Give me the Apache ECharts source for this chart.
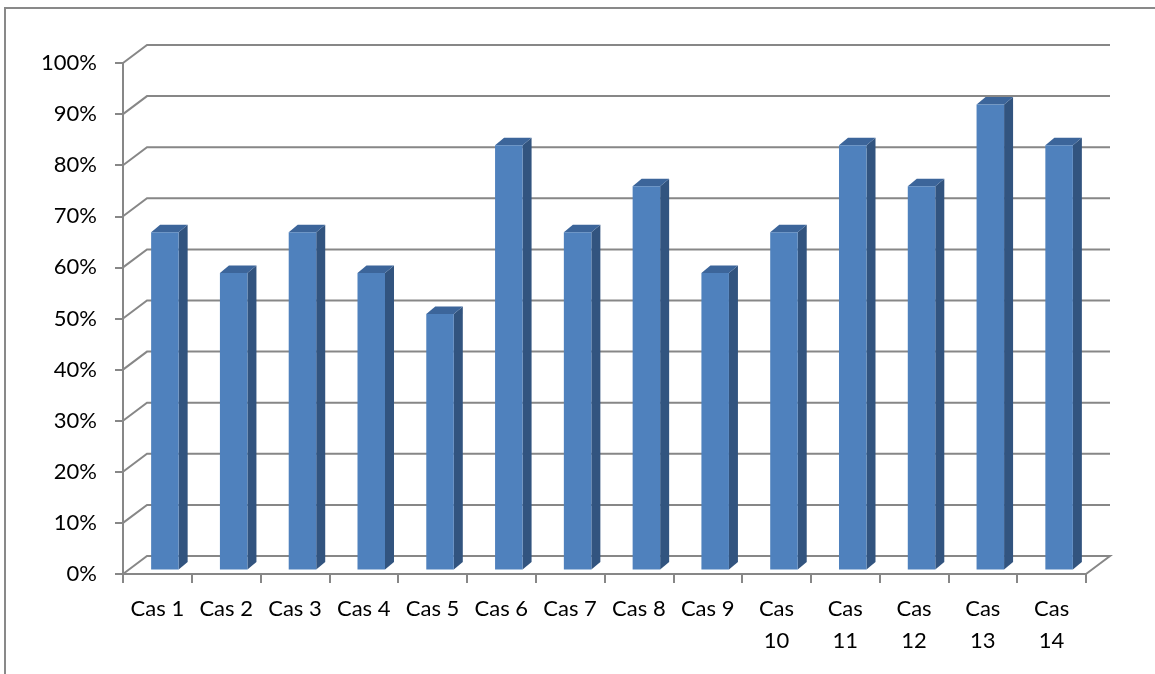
<!DOCTYPE html>
<html>
<head>
<meta charset="utf-8">
<script src="https://cdn.jsdelivr.net/npm/echarts@6/dist/echarts.min.js"></script>
<style>
  html, body { margin: 0; padding: 0; background: #fff; }
  #chart_div { width: 1155px; height: 674px; }
</style>
</head>
<body>
<div id="chart_div"></div>
<script>
// ----------- 数据 -----------
var categories = ['Cas 1', 'Cas 2', 'Cas 3', 'Cas 4', 'Cas 5', 'Cas 6', 'Cas 7',
    'Cas 8', 'Cas 9', 'Cas 10', 'Cas 11', 'Cas 12', 'Cas 13', 'Cas 14']
var values = [0.66, 0.58, 0.66, 0.58, 0.50, 0.83, 0.66, 0.75, 0.58, 0.66, 0.83, 0.75, 0.91, 0.83]
var y_ticks = [0, 0.1, 0.2, 0.3, 0.4, 0.5, 0.6, 0.7, 0.8, 0.9, 1.0]

// ----------- 3D 偏移 -----------
var WALL_DX = 24, WALL_DY = -18      // 后墙相对前轴
var FRONT_DX = 7.5, FRONT_DY = -4.5  // 柱子正面相对前轴
var DEPTH_DX = 9, DEPTH_DY = -7.5    // 柱子厚度
var grid_color = '#878787'
var font = 'Lato'

var chart = echarts.init(document.getElementById('chart_div'))

// 后墙网格线
function render_wall(params, api) {
    var cs = params.coordSys
    var v = api.value(1)
    var y = api.coord([0, v])[1]
    var left = cs.x, right = cs.x + cs.width
    var pts = [[left, y], [left + WALL_DX, y + WALL_DY], [right + WALL_DX, y + WALL_DY]]
    if (v === 0) {
        pts.push([right, y])
    }
    return {
        type: 'polyline',
        shape: { points: pts },
        style: { stroke: grid_color, lineWidth: 2, fill: null }
    }
}

// 立体柱子
function render_bar(params, api) {
    var i = api.value(0), v = api.value(1)
    var base = api.coord([i, 0])
    var top = api.coord([i, v])
    var w = api.size([1, 0])[0] * 0.4
    var x0 = base[0] - w / 2 + FRONT_DX, x1 = x0 + w
    var yb = base[1] + FRONT_DY, yt = top[1] + FRONT_DY
    return {
        type: 'group',
        children: [
            {
                type: 'polygon',
                shape: { points: [[x1, yt], [x1 + DEPTH_DX, yt + DEPTH_DY], [x1 + DEPTH_DX, yb + DEPTH_DY], [x1, yb]] },
                style: { fill: '#32547f' }
            },
            {
                type: 'polygon',
                shape: { points: [[x0, yt], [x0 + DEPTH_DX, yt + DEPTH_DY], [x1 + DEPTH_DX, yt + DEPTH_DY], [x1, yt]] },
                style: { fill: '#3c659a' }
            },
            {
                type: 'rect',
                shape: { x: x0, y: yt, width: w, height: yb - yt },
                style: { fill: '#4f81bd' }
            }
        ]
    }
}

var option = {
    animation: false,
    graphic: [{
        type: 'rect',
        shape: { x: 5, y: 8, width: 1400, height: 900 },
        style: { fill: null, stroke: '#898989', lineWidth: 2 },
        silent: true
    }],
    grid: { left: 123, right: 69, top: 63, bottom: 100 },
    xAxis: {
        type: 'category',
        data: categories,
        axisLine: { lineStyle: { color: grid_color, width: 2 } },
        axisTick: { show: true, length: 9, lineStyle: { color: grid_color, width: 2 } },
        axisLabel: {
            color: '#000',
            fontFamily: font,
            fontSize: 22,
            lineHeight: 32,
            margin: 19,
            interval: 0,
            formatter: function (value) {
                return value.length > 5 ? value.replace(' ', '\n') : value
            }
        }
    },
    yAxis: {
        type: 'value',
        min: 0,
        max: 1,
        interval: 0.1,
        splitLine: { show: false },
        axisLine: { show: true, lineStyle: { color: grid_color, width: 2 } },
        axisTick: { show: true, length: 8, lineStyle: { color: grid_color, width: 2 } },
        axisLabel: {
            color: '#000',
            fontFamily: font,
            fontSize: 22,
            margin: 26,
            formatter: function (v) {
                return Math.round(v * 100) + '%'
            }
        }
    },
    series: [
        {
            type: 'custom',
            clip: false,
            z: 1,
            silent: true,
            renderItem: render_wall,
            data: y_ticks.map(function (v) { return [0, v] })
        },
        {
            type: 'custom',
            clip: false,
            z: 2,
            renderItem: render_bar,
            data: values.map(function (v, i) { return [i, v] })
        }
    ]
}

chart.setOption(option)
</script>
</body>
</html>
